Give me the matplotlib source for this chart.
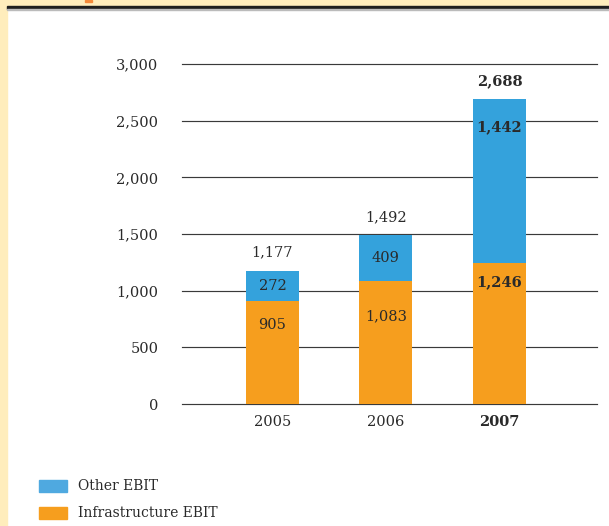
import matplotlib.pyplot as plt
from matplotlib.patches import Rectangle

years = ["2005", "2006", "2007"]
infrastructure = [905, 1083, 1246]
other = [272, 409, 1442]
totals = [1177, 1492, 2688]
yticks = [0, 500, 1000, 1500, 2000, 2500, 3000]

BLUE = "#34A2DC"
ORANGE = "#F69E1E"
CREAM = "#FFEDBC"
TEXT = "#2a2a2a"

plt.rcParams["font.family"] = ["DejaVu Serif"]

fig = plt.figure(figsize=(6.09, 5.26), dpi=100)
ax = fig.add_axes([182 / 609, 122 / 526, 415 / 609, 340 / 526])

x = list(range(len(years)))
width = 0.467
ax.bar(x, infrastructure, width=width, color=ORANGE, zorder=3)
ax.bar(x, other, width=width, bottom=infrastructure, color=BLUE, zorder=3)

for y in yticks:
    ax.axhline(y, color="#3a3a3a", lw=0.85, zorder=1, clip_on=False)

ax.set_xlim(-0.797, 2.86)
ax.set_ylim(0, 3000)
for side in ("top", "right", "left", "bottom"):
    ax.spines[side].set_visible(False)
ax.set_yticks(yticks)
ax.set_yticklabels([f"{v:,}" for v in yticks])
ax.set_xticks(x)
ax.set_xticklabels(years)
ax.tick_params(axis="both", length=0, labelsize=10.5, colors=TEXT)
ax.tick_params(axis="y", pad=17)
ax.tick_params(axis="x", pad=8)
ax.get_xticklabels()[-1].set_fontweight("bold")

last = len(years) - 1
# orange label offsets below segment top (points)
orange_off = [-17, -25, -14]
for i in x:
    bold = "bold" if i == last else "normal"
    ax.annotate(f"{totals[i]:,}", (i, totals[i]), xytext=(0, 13), textcoords="offset points",
                ha="center", va="center", fontsize=10.5, fontweight=bold, color=TEXT)
    if i == last:
        ax.annotate(f"{other[i]:,}", (i, totals[i]), xytext=(0, -20), textcoords="offset points",
                    ha="center", va="center", fontsize=10.5, fontweight=bold, color=TEXT, zorder=4)
    else:
        ax.text(i, infrastructure[i] + other[i] / 2, f"{other[i]:,}", ha="center", va="center",
                fontsize=10.5, color=TEXT, zorder=4)
    ax.annotate(f"{infrastructure[i]:,}", (i, infrastructure[i]), xytext=(0, orange_off[i]),
                textcoords="offset points", ha="center", va="center", fontsize=10.5,
                fontweight=bold, color=TEXT, zorder=4)

# page decoration: cream margin, header band and rule
fig.patches.append(Rectangle((0, 0), 7 / 609, 1, transform=fig.transFigure, color=CREAM, zorder=0))
fig.patches.append(Rectangle((0, 1 - 6 / 526), 1, 6 / 526, transform=fig.transFigure, color=CREAM, zorder=0))
fig.patches.append(Rectangle((85 / 609, 1 - 1.5 / 526), 7 / 609, 1.5 / 526, transform=fig.transFigure,
                             color="#F58A3A", zorder=1))
fig.patches.append(Rectangle((7 / 609, 1 - 9 / 526), 1, 3 / 526, transform=fig.transFigure,
                             color="#1e1e1e", zorder=1))
fig.patches.append(Rectangle((7 / 609, 1 - 10 / 526), 1, 1 / 526, transform=fig.transFigure,
                             color="#bbbbbb", zorder=1))

# legend
legend_items = [("Other EBIT", "#4FA9E0"), ("Infrastructure EBIT", ORANGE)]
for k, (label, col) in enumerate(legend_items):
    ytop = 480 + k * 27
    fig.patches.append(Rectangle((39 / 609, 1 - (ytop + 12) / 526), 28 / 609, 12 / 526,
                                 transform=fig.transFigure, color=col))
    fig.text(78 / 609, 1 - (ytop + 6) / 526, label, ha="left", va="center",
             fontsize=10, color=TEXT)

fig.savefig("out.png", dpi=100)
